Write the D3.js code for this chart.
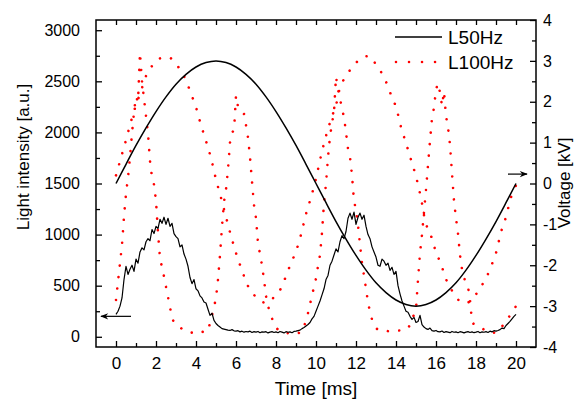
<html>
<head>
<meta charset="utf-8">
<style>
  body { margin: 0; background: #fff; }
  text { font-family: "Liberation Sans", Arial, sans-serif; fill: #000; }
</style>
</head>
<body>
<svg id="mainSvg" width="584" height="400"></svg>
<script src="https://cdn.jsdelivr.net/npm/d3@7/dist/d3.min.js"></script>
<script>
// ---- data ----
// light traces sampled every 0.1 ms from 0 to 20 ms (left axis, a.u.)
const lightStep = 0.1
const light50 = [220,250,300,380,560,690,610,660,700,640,760,720,830,870,850,930,960,940,1050,1010,
  1080,1060,1150,1110,1170,1100,1160,1080,1110,1010,980,960,880,900,810,760,690,580,520,560,
  470,450,400,380,340,330,270,210,230,160,130,110,95,80,75,70,65,62,70,58,
  55,60,48,55,45,52,48,55,42,50,45,52,40,48,45,50,38,46,50,42,
  48,40,52,45,38,50,44,48,40,52,55,60,65,80,90,105,120,140,175,200,
  250,300,350,410,470,560,600,700,740,800,860,830,930,990,960,1030,1160,1210,1150,1220,
  1100,1170,1210,1150,1190,1080,1000,960,880,830,780,700,690,760,740,700,720,650,680,610,
  640,500,420,350,300,250,240,200,170,190,140,150,210,120,95,80,72,85,60,55,
  62,50,48,56,42,50,45,40,52,44,48,40,50,45,38,46,50,42,48,40,
  45,52,40,48,44,50,42,55,48,60,55,62,70,85,80,110,130,150,175,200,220]
const light100 = [360,540,720,900,1180,1400,1560,1760,1990,2200,2350,2300,2780,2500,2330,2160,1990,1720,1560,1490,
  1330,1020,770,680,590,490,390,290,180,145,120,105,95,75,60,52,45,42,40,45,
  55,60,58,50,45,42,70,130,210,290,380,560,800,1080,1320,1440,1640,1900,2000,2020,
  2360,2250,2210,2190,2180,2070,1950,1760,1520,1290,1160,920,810,700,560,400,300,240,180,130,
  90,70,55,45,40,38,35,40,35,30,32,40,35,60,100,160,230,320,400,490,
  570,690,800,1020,1310,1500,1760,1960,2090,2200,2545,2420,2330,2230,2150,2000,1840,1760,1580,1330,
  1240,1100,900,720,600,470,340,240,170,120,85,70,62,60,58,62,55,52,50,52,
  55,60,62,65,70,72,80,120,165,220,270,560,820,1000,1220,1440,1680,1920,2140,2240,
  2420,2480,2390,2260,2400,2160,2050,1880,1600,1330,1160,1010,800,660,580,520,490,360,150,120,
  110,100,92,85,70,55,50,45,42,40,42,50,70,100,130,150,180,210,240,270,300]
// voltage traces (right axis, kV)
const volt50Step = 0.5
const volt50 = [0,0.47,0.93,1.36,1.76,2.12,2.43,2.67,2.85,2.96,3.0,2.96,2.85,2.67,2.43,2.12,1.76,1.36,0.93,0.47,
  0,-0.47,-0.93,-1.36,-1.76,-2.12,-2.43,-2.67,-2.85,-2.96,-3.0,-2.96,-2.85,-2.67,-2.43,-2.12,-1.76,-1.36,-0.93,-0.47,0]
const volt100Step = 0.25
const volt100 = [0.2,0.63,1.06,1.52,1.92,2.26,2.63,2.84,3.0,3.07,3.1,3.06,2.92,2.76,2.52,2.2,1.86,1.43,1.04,0.62,
  0.1,-0.35,-0.82,-1.28,-1.7,-2.06,-2.39,-2.65,-2.77,-2.88,-2.92,-2.87,-2.69,-2.57,-2.26,-1.95,-1.66,-1.25,-0.75,-0.34,
  0.12,0.68,1.16,1.57,1.92,2.42,2.62,2.81,2.95,3.07,3.11,3.1,2.9,2.73,2.49,2.17,1.87,1.38,0.99,0.58,
  0.17,-0.36,-0.99,-1.28,-1.68,-1.97,-2.34,-2.58,-2.78,-2.9,-2.93,-2.86,-2.71,-2.52,-2.32,-2.03,-1.7,-1.19,-0.82,-0.34,-0.05]

const xTicks = [0,2,4,6,8,10,12,14,16,18,20]
const leftTicks = [0,500,1000,1500,2000,2500,3000]
const rightTicks = [-4,-3,-2,-1,0,1,2,3,4]
const legendNames = ['L50Hz', 'L100Hz']

// ---- layout ----
const svg = d3.select('#mainSvg')
const margin = { top: 20, right: 48, bottom: 53, left: 96 }
const width = 584 - margin.left - margin.right
const height = 400 - margin.top - margin.bottom

const x = d3.scaleLinear().domain([-1, 21]).range([margin.left, margin.left + width])
const yL = d3.scaleLinear().domain([-100, 3100]).range([margin.top + height, margin.top])
const yR = d3.scaleLinear().domain([-4, 4]).range([margin.top + height, margin.top])

const toPts = (arr, step) => arr.map((v, i) => [i * step, v])

const dotted = { color: '#ff0000', width: 2.6, dash: '0.01 11.5' }

const lineL = d3.line().x(d => x(d[0])).y(d => yL(d[1]))
const lineR = d3.line().x(d => x(d[0])).y(d => yR(d[1])).curve(d3.curveCatmullRom)

// red: 100 Hz
svg.append('path').datum(toPts(volt100, volt100Step))
  .attr('d', lineR).attr('fill', 'none')
  .attr('stroke', dotted.color).attr('stroke-width', dotted.width)
  .attr('stroke-linecap', 'round').attr('stroke-dasharray', dotted.dash)
svg.append('path').datum(toPts(light100, lightStep))
  .attr('d', lineL).attr('fill', 'none')
  .attr('stroke', dotted.color).attr('stroke-width', dotted.width)
  .attr('stroke-linecap', 'round').attr('stroke-dasharray', dotted.dash)

// black: 50 Hz
svg.append('path').datum(toPts(volt50, volt50Step))
  .attr('d', lineR).attr('fill', 'none').attr('stroke', '#000').attr('stroke-width', 1.5)
svg.append('path').datum(toPts(light50, lightStep))
  .attr('d', lineL).attr('fill', 'none').attr('stroke', '#000').attr('stroke-width', 1.2)
  .attr('stroke-linejoin', 'round')

// ---- axes (ticks inside the frame) ----
const fmt = d => String(d)
const styleAxis = (g, size) => {
  g.select('.domain').remove()
  g.selectAll('line').attr('stroke', '#000').attr('stroke-width', 1.3)
  g.selectAll('text').attr('font-size', size).attr('font-family', '"Liberation Sans", Arial, sans-serif').attr('fill', '#000')
}
const bottomY = margin.top + height
svg.append('g').attr('transform', `translate(0,${bottomY})`)
  .call(d3.axisBottom(x).tickValues(xTicks).tickSize(-6).tickPadding(10).tickFormat(fmt))
  .call(g => styleAxis(g, 17))
svg.append('g').attr('transform', `translate(0,${bottomY})`)
  .call(d3.axisBottom(x).tickValues(xTicks.slice(1).map(v => v - 1)).tickSize(-4).tickFormat(''))
  .call(g => styleAxis(g, 0))
svg.append('g').attr('transform', `translate(0,${margin.top})`)
  .call(d3.axisTop(x).tickValues(d3.range(0, 21)).tickSize(-5).tickFormat(''))
  .call(g => styleAxis(g, 0))
svg.append('g').attr('transform', `translate(${margin.left},0)`)
  .call(d3.axisLeft(yL).tickValues(leftTicks).tickSize(-6).tickPadding(16).tickFormat(fmt))
  .call(g => styleAxis(g, 16))
svg.append('g').attr('transform', `translate(${margin.left},0)`)
  .call(d3.axisLeft(yL).tickValues(leftTicks.slice(1).map(v => v - 250)).tickSize(-4).tickFormat(''))
  .call(g => styleAxis(g, 0))
svg.append('g').attr('transform', `translate(${margin.left + width},0)`)
  .call(d3.axisRight(yR).tickValues(rightTicks).tickSize(-6).tickPadding(7).tickFormat(fmt))
  .call(g => styleAxis(g, 16))
svg.append('g').attr('transform', `translate(${margin.left + width},0)`)
  .call(d3.axisRight(yR).tickValues(rightTicks.slice(1).map(v => v - 0.5)).tickSize(-4).tickFormat(''))
  .call(g => styleAxis(g, 0))

svg.append('rect').attr('x', margin.left).attr('y', margin.top)
  .attr('width', width).attr('height', height)
  .attr('fill', 'none').attr('stroke', '#000').attr('stroke-width', 1.5)

// axis titles
svg.append('text').attr('x', x(10)).attr('y', 395).attr('text-anchor', 'middle')
  .attr('font-size', 19).text('Time [ms]')
svg.append('text').attr('transform', 'translate(29,157) rotate(-90)').attr('text-anchor', 'middle')
  .attr('font-size', 17).text('Light intensity [a.u.]')
svg.append('text').attr('transform', 'translate(570,183) rotate(-90)').attr('text-anchor', 'middle')
  .attr('font-size', 17).text('Voltage [kV]')

// arrows pointing to each axis
const defs = svg.append('defs')
defs.append('marker').attr('id', 'head').attr('viewBox', '0 0 10 10')
  .attr('refX', 9).attr('refY', 5).attr('markerWidth', 10).attr('markerHeight', 8)
  .attr('markerUnits', 'userSpaceOnUse').attr('orient', 'auto')
  .append('path').attr('d', 'M0,1 L10,5 L0,9 L3,5 Z').attr('fill', '#000')
svg.append('line').attr('x1', x(0.75)).attr('x2', x(-0.75)).attr('y1', yL(200)).attr('y2', yL(200))
  .attr('stroke', '#000').attr('stroke-width', 1.2).attr('marker-end', 'url(#head)')
svg.append('line').attr('x1', x(19.6)).attr('x2', x(20.55)).attr('y1', yR(0.23)).attr('y2', yR(0.23))
  .attr('stroke', '#000').attr('stroke-width', 1.2).attr('marker-end', 'url(#head)')

// legend
const legend = svg.append('g')
legend.append('line').attr('x1', 395).attr('x2', 442).attr('y1', 37).attr('y2', 37)
  .attr('stroke', '#000').attr('stroke-width', 1.5)
legend.append('line').attr('x1', 396).attr('x2', 442).attr('y1', 62).attr('y2', 62)
  .attr('stroke', dotted.color).attr('stroke-width', dotted.width)
  .attr('stroke-linecap', 'round').attr('stroke-dasharray', '0.01 13')
legendNames.forEach((n, i) => {
  legend.append('text').attr('x', 448).attr('y', 44 + i * 25).attr('font-size', 19).text(n)
})
</script>
</body>
</html>
